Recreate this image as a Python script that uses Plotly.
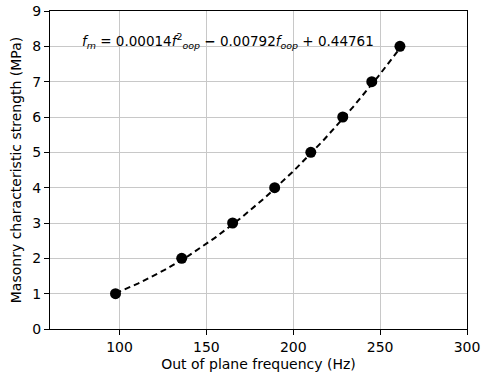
import numpy as np
import plotly.graph_objects as go

# Measured out-of-plane frequencies and the matching masonry strengths
freq_hz = [97.7, 135.8, 165.1, 189.3, 210.1, 228.5, 245.2, 261.4]
strength_mpa = [1, 2, 3, 4, 5, 6, 7, 8]

# Quadratic fit coefficients (highest order first)
fit_coeffs = [0.00014, -0.00792, 0.44761]

x_ticks = [100, 150, 200, 250, 300]
y_ticks = [0, 1, 2, 3, 4, 5, 6, 7, 8, 9]

f_line = np.linspace(min(freq_hz), max(freq_hz), 200)
m_line = np.polyval(fit_coeffs, f_line)

fig = go.Figure()
fig.add_trace(go.Scatter(
    x=f_line, y=m_line, mode="lines",
    line=dict(color="black", width=2, dash="6px,4px"),
    hoverinfo="skip", showlegend=False,
))
fig.add_trace(go.Scatter(
    x=freq_hz, y=strength_mpa, mode="markers",
    marker=dict(color="black", size=11),
    showlegend=False,
))

font = dict(family="DejaVu Sans", size=14, color="black")
axis_common = dict(
    showline=True, linecolor="black", linewidth=1.2, mirror=True,
    ticks="outside", ticklen=5, tickwidth=1, tickcolor="black",
    showgrid=True, gridcolor="#c8c8c8", gridwidth=1,
    zeroline=False, tickfont=font, automargin=False,
)

fig.update_layout(
    width=485, height=376,
    margin=dict(l=50, r=18, t=11, b=47),
    paper_bgcolor="white", plot_bgcolor="white",
    font=font,
    xaxis=dict(axis_common, range=[60, 300], tickvals=x_ticks,
               title=dict(text="Out of plane frequency (Hz)", font=font, standoff=5)),
    yaxis=dict(axis_common, range=[0, 9], tickvals=y_ticks,
               title=dict(text="Masonry characteristic strength (MPa)", font=font, standoff=7)),
    annotations=[dict(
        x=77, y=8.15, xref="x", yref="y", xanchor="left", yanchor="middle",
        showarrow=False, font=dict(font, size=13.5),
        text=("<i>f</i><sub><i>m</i></sub> = 0.00014<i>f</i><sup>2</sup><sub><i>oop</i></sub>"
              " <b>−</b> 0.00792<i>f</i><sub><i>oop</i></sub> + 0.44761"),
    )],
)

fig.write_html("out.html")
